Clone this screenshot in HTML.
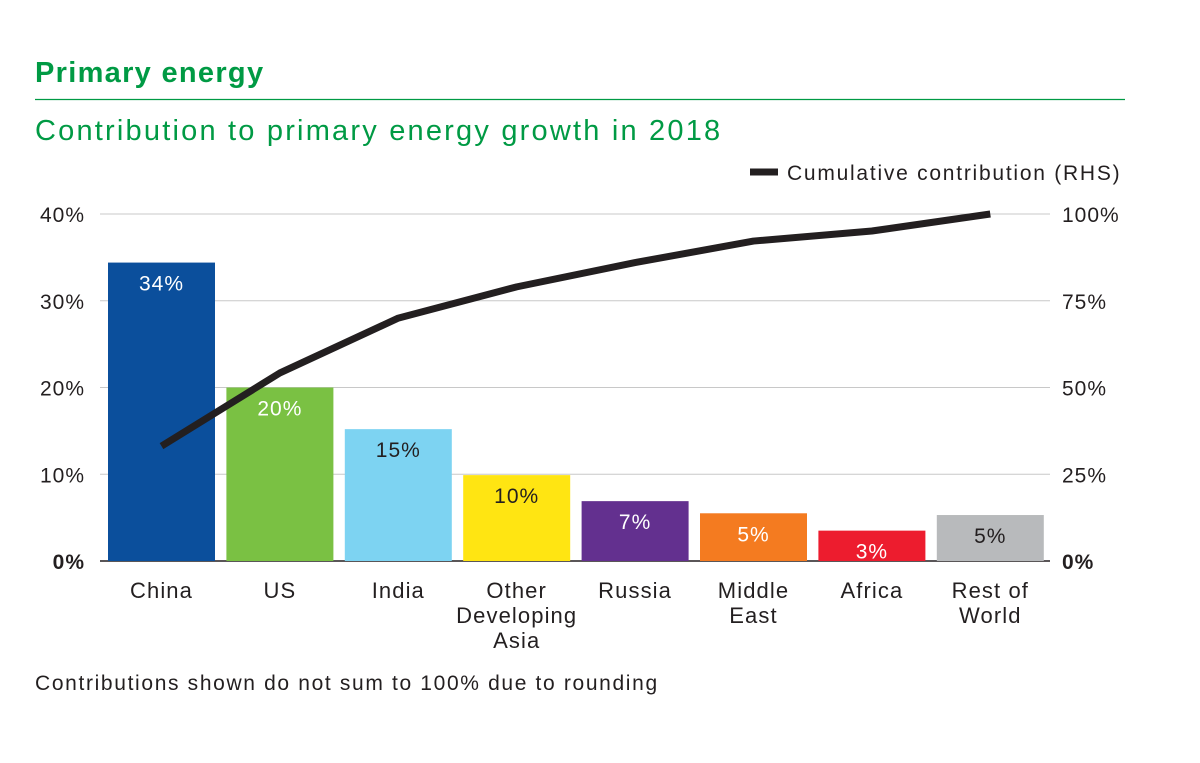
<!DOCTYPE html>
<html><head><meta charset="utf-8"><style>
body{margin:0;background:#fff;width:1200px;height:758px;overflow:hidden;font-family:"Liberation Sans",Arial,sans-serif}
</style></head><body>
<svg width="1200" height="758" xmlns="http://www.w3.org/2000/svg" font-family="Liberation Sans, Arial, sans-serif">
<text x="35" y="82" font-size="29" font-weight="bold" fill="#009a44" letter-spacing="1.3">Primary energy</text>
<line x1="35" y1="99.5" x2="1125" y2="99.5" stroke="#009a44" stroke-width="1.2"/>
<text x="35" y="140" font-size="29" fill="#009a44" letter-spacing="2.2">Contribution to primary energy growth in 2018</text>
<line x1="750" y1="172" x2="778" y2="172" stroke="#231f20" stroke-width="7"/>
<text x="787" y="180" font-size="21" fill="#231f20" letter-spacing="1.75">Cumulative contribution (RHS)</text>
<g id="grid"></g><g id="bars"></g><g id="line"></g><g id="labels"></g>
<text x="35" y="690" font-size="21" fill="#231f20" letter-spacing="1.65">Contributions shown do not sum to 100% due to rounding</text>
</svg>
<script>
const categories=[["China"],["US"],["India"],["Other","Developing","Asia"],["Russia"],["Middle","East"],["Africa"],["Rest of","World"]];
const values=[34.4,20.0,15.2,9.9,6.9,5.5,3.5,5.3];
const valueLabels=["34%","20%","15%","10%","7%","5%","3%","5%"];
const cumulative=[33.1,54.2,70,79,86,92.2,95.1,100];
const leftTicks=[0,10,20,30,40];
const rightTicks=[0,25,50,75,100];
const colors=["#0b4f9c","#7ac143","#7dd3f2","#ffe512","#63308f","#f47b20","#ed1c2e","#b8babc"];
const ns="http://www.w3.org/2000/svg";
const y0=561,yTop=214,x0=100,x1=1050;
const yL=v=>y0-(v/40)*(y0-yTop);
const yR=v=>y0-(v/100)*(y0-yTop);
const step=118.4,bw=107;
const xC=i=>161.5+i*step;
function mk(t,a,p,txt){const e=document.createElementNS(ns,t);for(const k in a)e.setAttribute(k,a[k]);if(txt!==undefined)e.textContent=txt;document.getElementById(p).appendChild(e);return e;}
leftTicks.forEach((v,i)=>{
 const g=mk("line",{x1:x0,x2:x1,y1:yL(v),y2:yL(v),stroke:v===0?"#231f20":"#c8c8c8","stroke-width":v===0?1.5:1},"grid");
 
 
 const t=mk("text",{x:85,y:yL(v)+8,"font-size":21,"text-anchor":"end",fill:"#231f20","letter-spacing":1,"font-weight":v===0?"bold":"normal"},"grid",v+"%");
 
 
});
rightTicks.forEach(v=>{
 const t=mk("text",{x:1062,y:yR(v)+8,"font-size":21,fill:"#231f20","letter-spacing":1,"font-weight":v===0?"bold":"normal"},"grid",v+"%");
 
 
});
values.forEach((v,i)=>{
 const r=mk("rect",{x:xC(i)-bw/2,y:yL(v),width:bw,height:y0-yL(v),fill:colors[i]},"bars");
 
 
 const t=mk("text",{x:xC(i),y:yL(v)+28,"font-size":21,"text-anchor":"middle","letter-spacing":1,fill:(i===0||i===1||i===4||i===5||i===6)?"#fff":"#231f20"},"labels",valueLabels[i]);
 
 
 categories[i].forEach((ln,j)=>{
  const c=mk("text",{x:xC(i),y:598+j*25,"font-size":22,"text-anchor":"middle","letter-spacing":1.1,fill:"#231f20"},"labels",ln);
  
  
 });
});
const pts=cumulative.map((v,i)=>xC(i)+","+yR(v)).join(" ");
const pl=mk("polyline",{points:pts,fill:"none",stroke:"#231f20","stroke-width":7,"stroke-linejoin":"round","stroke-linecap":"butt"},"line");


</script>
</body></html>
